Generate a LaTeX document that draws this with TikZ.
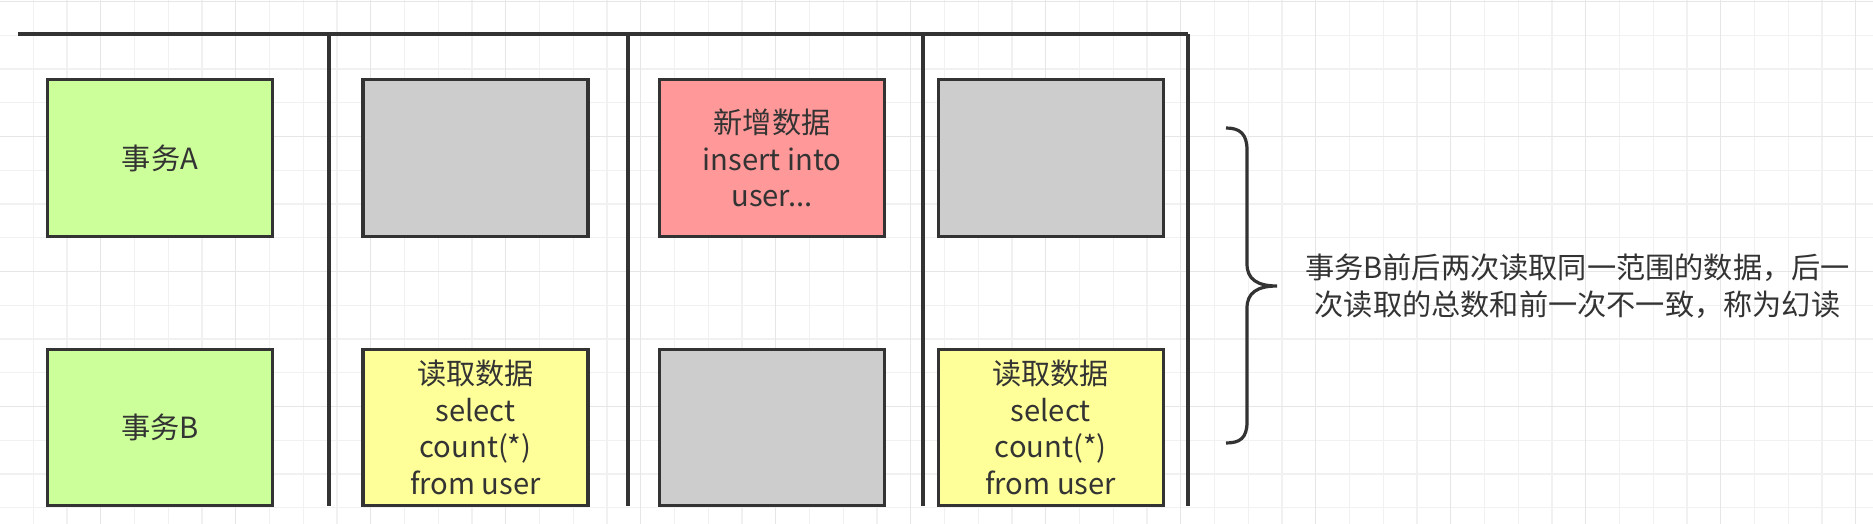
\documentclass[tikz,border=0pt]{standalone}
\usepackage{fontspec}
\setmainfont{Noto Sans CJK SC}
\usepackage{tikz}
\usetikzlibrary{calc}

\definecolor{inkgray}{HTML}{333333}
\definecolor{gridminor}{HTML}{F1F1F1}
\definecolor{gridmajor}{HTML}{E6E6E6}
\definecolor{txgreen}{HTML}{CCFF99}
\definecolor{txgray}{HTML}{CDCDCD}
\definecolor{txred}{HTML}{FF9999}
\definecolor{txyellow}{HTML}{FFFF99}

\begin{document}
\begin{tikzpicture}[x=0.5pt,y=-0.5pt,
  cell/.style={draw=inkgray,line width=1.7pt,minimum width=112.5pt,minimum height=78.25pt,
    inner sep=0pt,align=center,text=inkgray,font=\fontsize{14.6pt}{18.3pt}\selectfont},
  lane/.style={draw=inkgray,line width=1.8pt}]

% Canvas and background grid
\useasboundingbox (0,0) rectangle (1873,524);
\fill[white] (0,0) rectangle (1873,524);
\foreach \i in {0,...,56}
  \draw[gridminor,line width=0.7pt] ({-0.5+33.75*\i},0)--({-0.5+33.75*\i},524);
\foreach \j in {0,...,15}
  \draw[gridminor,line width=0.7pt] (0,{1.5+33.75*\j})--(1873,{1.5+33.75*\j});
\foreach \i in {0,...,13}
  \draw[gridmajor,line width=0.7pt] ({100.75+135*\i},0)--({100.75+135*\i},524);
\foreach \j in {0,...,3}
  \draw[gridmajor,line width=0.7pt] (0,{1.5+135*\j})--(1873,{1.5+135*\j});

% Time lanes
\draw[lane,line width=2pt] (18,34)--(1188,34);
\foreach \x in {329,628,923,1188}
  \draw[lane] (\x,34)--(\x,506);

% Transaction A (top row)
\node[cell,fill=txgreen] (txA) at (160,158) {事务A};
\node[cell,fill=txgray] (a1) at (475.5,158) {};
\node[cell,fill=txred] (a2) at (772,158) {新增数据\\insert into\\user...};
\node[cell,fill=txgray] (a3) at (1050.7,158) {};

% Transaction B (bottom row)
\node[cell,fill=txgreen] (txB) at (160,427.5) {事务B};
\node[cell,fill=txyellow] (b1) at (475.5,427.5) {读取数据\\select\\count(*)\\from user};
\node[cell,fill=txgray] (b2) at (772,427.5) {};
\node[cell,fill=txyellow] (b3) at (1050.7,427.5) {读取数据\\select\\count(*)\\from user};

% Brace and note
\draw[inkgray,line width=1.6pt] (1226,128) .. controls (1240,128) and (1247,134) .. (1247,150)
  -- (1247,264) .. controls (1247,279) and (1257,286) .. (1277,286)
  .. controls (1257,286) and (1247,293) .. (1247,308)
  -- (1247,422) .. controls (1247,438) and (1240,443) .. (1226,443);
\node[align=center,text=inkgray,inner sep=0pt,font=\fontsize{14.6pt}{18.5pt}\selectfont] (note) at (1577.5,286.5)
  {事务B前后两次读取同一范围的数据，后一\\次读取的总数和前一次不一致，称为幻读};

\end{tikzpicture}
\end{document}
